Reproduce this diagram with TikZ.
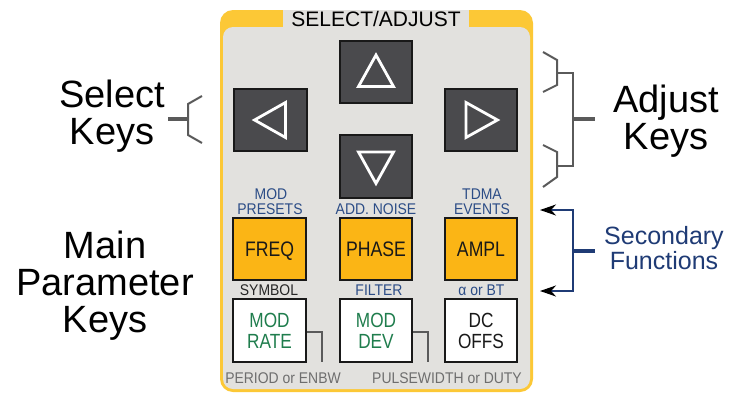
\documentclass[tikz,border=0pt]{standalone}
\usepackage{fontspec}
\setmainfont{Liberation Sans}
\newfontfamily\keyfont[FakeStretch=0.84]{Liberation Sans}
\newfontfamily\lblfont[FakeStretch=0.9]{Liberation Sans}
\usetikzlibrary{arrows.meta}
\definecolor{frameyel}{HTML}{FCC836}
\definecolor{panelgray}{HTML}{E2E1DE}
\definecolor{keydark}{HTML}{4A4A4D}
\definecolor{keyorange}{HTML}{FBB515}
\definecolor{lblue}{HTML}{2B4C86}
\definecolor{kgreen}{HTML}{1F7D4D}
\definecolor{bgray}{HTML}{6E6E6E}
\definecolor{brgray}{HTML}{5A5A5A}
\definecolor{navyb}{HTML}{1F3B75}
\begin{document}
\begin{tikzpicture}[x=1pt,y=-1pt,
  keybox/.style={draw=black!90, line width=1.8pt, minimum width=72.5pt, minimum height=62.5pt, inner sep=0pt},
  darkkey/.style={keybox, fill=keydark},
  orangekey/.style={keybox, fill=keyorange, font=\keyfont\fontsize{21}{21}\selectfont, text=black!90, text height=15pt, text depth=0pt},
  whitekey/.style={keybox, fill=white, font=\keyfont\fontsize{20.5}{21}\selectfont, align=center},
  smalllbl/.style={font=\lblfont\fontsize{15.5}{15}\selectfont, anchor=base, inner sep=0pt},
  biglbl/.style={font=\fontsize{38}{37}\selectfont, align=center, inner sep=0pt},
  tri/.style={draw=white, line width=2.8pt},
  brk/.style={draw=brgray, line width=2pt},
  stem/.style={draw=brgray, line width=3.4pt},
  navyline/.style={draw=navyb, line width=2pt}
]
\useasboundingbox (0,0) rectangle (729,394);
\fill[white] (0,0) rectangle (729,394);
% panel
\fill[frameyel, rounded corners=13pt] (220,10) rectangle (533,392);
\fill[panelgray, rounded corners=10pt] (223,27) rectangle (530,389);
\fill[panelgray] (283,9.5) rectangle (469,27.5);
\node[font=\fontsize{21}{22}\selectfont, anchor=base, inner sep=0pt] (title) at (376,26.5) {SELECT/ADJUST};

% arrow keys
\node[darkkey] (up) at (376,72) {};
\node[darkkey] (left) at (270.5,120) {};
\node[darkkey] (right) at (481,120) {};
\node[darkkey] (down) at (376,166.5) {};
\draw[tri] ([shift={(0,-17)}]up.center) -- ([shift={(17.5,14.5)}]up.center) -- ([shift={(-17.5,14.5)}]up.center) -- cycle;
\draw[tri] ([shift={(0,17)}]down.center) -- ([shift={(17.5,-14.5)}]down.center) -- ([shift={(-17.5,-14.5)}]down.center) -- cycle;
\draw[tri] ([shift={(-16,0)}]left.center) -- ([shift={(15,-17.5)}]left.center) -- ([shift={(15,17.5)}]left.center) -- cycle;
\draw[tri] ([shift={(16.5,0)}]right.center) -- ([shift={(-15,-17.5)}]right.center) -- ([shift={(-15,17.5)}]right.center) -- cycle;

% secondary labels above orange keys
\node[smalllbl, text=lblue] (modl) at (271,199) {MOD};
\node[smalllbl, text=lblue] (presl) at (270,214) {PRESETS};
\node[smalllbl, text=lblue] (noisel) at (376,214) {ADD. NOISE};
\node[smalllbl, text=lblue] (tdmal) at (482,199) {TDMA};
\node[smalllbl, text=lblue] (evl) at (482,214) {EVENTS};

% orange keys
\node[orangekey] (freq) at (269.5,249) {FREQ};
\node[orangekey] (phase) at (376,249) {PHASE};
\node[orangekey] (ampl) at (481,249) {AMPL};

% labels above white keys
\node[smalllbl, text=black!85] (syml) at (269,295) {SYMBOL};
\node[smalllbl, text=lblue] (filtl) at (379,295) {FILTER};
\node[smalllbl, text=lblue] (alphal) at (481.5,295) {α or BT};

% white keys
\node[whitekey, text=kgreen] (mr) at (269.5,330.5) {MOD\\RATE};
\node[whitekey, text=kgreen] (md) at (376,330.5) {MOD\\DEV};
\node[whitekey, text=black!90] (dc) at (481,330.5) {DC\\OFFS};

% bottom labels
\node[smalllbl, text=bgray] (perl) at (283,383) {PERIOD or ENBW};
\node[smalllbl, text=bgray] (pulsl) at (447,383) {PULSEWIDTH or DUTY};
\coordinate (c1) at (322,362);
\coordinate (c2) at (428,362);
\draw[draw=brgray, line width=1.6pt] ([yshift=-1.5pt]mr.east) -| (c1);
\draw[draw=brgray, line width=1.6pt] ([yshift=-1.5pt]md.east) -| (c2);

% left labels
\node[biglbl] (selk) at (112,116.5) {Select\\Keys};
\node[biglbl] (mpk) at (105,285.5) {Main\\Parameter\\Keys};
% right labels
\node[biglbl] (adjk) at (666,121) {Adjust\\Keys};
\node[font=\fontsize{25}{25}\selectfont, align=center, inner sep=0pt, text=navyb] (secf) at (664,248.5) {Secondary\\Functions};

% select bracket
\coordinate (sb) at (188,119);
\coordinate (sstem) at (168,119);
\draw[brk] (202,96) -- (188,104) -- (188,135) -- (202,143);
\draw[stem] (sstem) -- (sb);

% adjust bracket
\draw[brk] (543,52) -- (557,60) -- (557,85) -- (543,92);
\draw[brk] (543,145) -- (557,152) -- (557,177) -- (543,187);
\draw[brk] (557,73) -- (573,73) -- (573,166) -- (557,166);
\coordinate (ab) at (573,119);
\coordinate (astem) at (595,119);
\draw[stem] (ab) -- (astem);

% secondary functions bracket
\coordinate (st) at (540,210);
\coordinate (sbot) at (540,291);
\draw[navyline, {Stealth[length=16pt,width=11pt,inset=5pt,black]}-{Stealth[length=16pt,width=11pt,inset=5pt,black]}] (st) -- (573,210) -- (573,291) -- (sbot);
\coordinate (nb) at (573,251);
\coordinate (nstem) at (595,251);
\draw[navyline, line width=3.2pt] (nb) -- (nstem);
\end{tikzpicture}
\end{document}
